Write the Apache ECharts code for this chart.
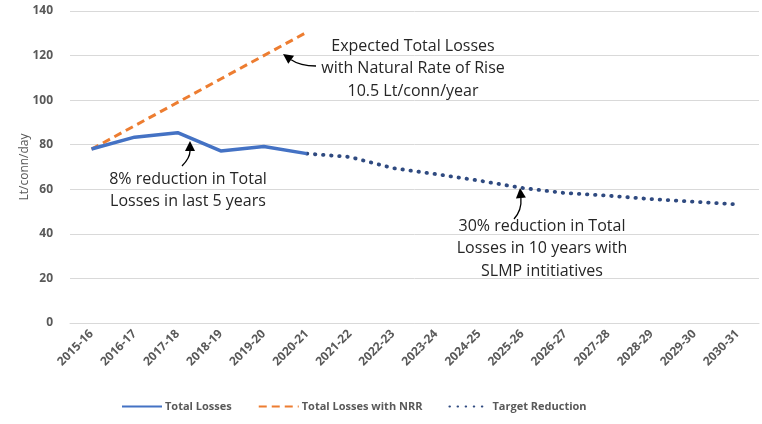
<!DOCTYPE html>
<html><head><meta charset="utf-8">
<script src="https://cdn.jsdelivr.net/npm/echarts@6/dist/echarts.min.js"></script>
<style>html,body{margin:0;padding:0;background:#fff}#c{width:762px;height:424px}</style>
</head><body><div id="c"></div>
<script>
const categories = ['2015-16','2016-17','2017-18','2018-19','2019-20','2020-21','2021-22','2022-23','2023-24','2024-25','2025-26','2026-27','2027-28','2028-29','2029-30','2030-31'];
const totalLosses = [78.1, 83.4, 85.4, 77.2, 79.2, 76.0, null, null, null, null, null, null, null, null, null, null];
const totalLossesNRR = [78, 88.5, 99, 109.5, 120, 130.5, null, null, null, null, null, null, null, null, null, null];
const targetReduction = [null, null, null, null, null, 76.0, 74.5, 69.5, 66.8, 63.9, 60.6, 58.3, 57.1, 55.6, 54.4, 53.2];
const yTicks = {min: 0, max: 140, interval: 20};

const FONT = '"Open Sans", sans-serif';
const GREY = '#595959';
const chart = echarts.init(document.getElementById('c'));
chart.setOption({
  animation: false,
  textStyle: {fontFamily: FONT},
  grid: {left: 70, right: 3, top: 11, bottom: 101},
  legend: {
    bottom: 7, left: 116, itemWidth: 40, itemHeight: 10, itemGap: 26,
    itemStyle: {opacity: 0},
    textStyle: {color: GREY, fontSize: 11, fontWeight: 'bold', fontFamily: FONT, padding: [0, 0, 0, -2]},
    data: ['Total Losses', 'Total Losses with NRR', 'Target Reduction']
  },
  xAxis: {
    type: 'category', data: categories, boundaryGap: true,
    axisLine: {lineStyle: {color: '#d9d9d9'}},
    axisTick: {show: false},
    axisLabel: {rotate: 45, interval: 0, color: GREY, fontSize: 12, fontWeight: 'bold', margin: 9}
  },
  yAxis: {
    type: 'value', min: yTicks.min, max: yTicks.max, interval: yTicks.interval,
    name: 'Lt/conn/day', nameLocation: 'middle', nameGap: 39, nameMoveOverlap: false,
    nameTextStyle: {color: GREY, fontSize: 12},
    axisLine: {show: false}, axisTick: {show: false},
    axisLabel: {color: GREY, fontSize: 12, fontWeight: 'bold', margin: 17},
    splitLine: {lineStyle: {color: '#d9d9d9'}}
  },
  series: [
    {name: 'Total Losses', type: 'line', data: totalLosses, symbol: 'none', connectNulls: false,
     lineStyle: {color: '#4472C4', width: 3.5}, itemStyle: {color: '#4472C4'}, z: 3},
    {name: 'Total Losses with NRR', type: 'line', data: totalLossesNRR, symbol: 'none',
     lineStyle: {color: '#ED7D31', width: 3, type: [8, 5]}, itemStyle: {color: '#ED7D31'}, z: 2},
    {name: 'Target Reduction', type: 'line', data: targetReduction, symbol: 'none',
     lineStyle: {color: '#2F4A80', width: 3.8, type: [0.5, 7.6], cap: 'round'}, itemStyle: {color: '#2F4A80'}, z: 2}
  ]
});

function arrow(x1, y1, cx, cy, x2, y2) {
  const ang = Math.atan2(y2 - cy, x2 - cx);
  const L = 10, W = 5;
  const bx = x2 - L * Math.cos(ang), by = y2 - L * Math.sin(ang);
  const px = -Math.sin(ang) * W, py = Math.cos(ang) * W;
  return [
    {type: 'bezierCurve', shape: {x1: x1, y1: y1, cpx1: cx, cpy1: cy, x2: bx, y2: by},
     style: {stroke: '#000', lineWidth: 1.3, fill: null}, z: 10},
    {type: 'polygon', shape: {points: [[x2, y2], [bx + px, by + py], [bx - px, by - py]]},
     style: {fill: '#000'}, z: 10}
  ];
}
function txt(x, y, lines) {
  return {type: 'text', x: x, y: y, z: 10,
    style: {text: lines.join('\n'), fill: '#262626', font: '16px ' + FONT, align: 'center', verticalAlign: 'top', lineHeight: 22.5}};
}
chart.setOption({graphic: [
  txt(413, 35, ['Expected Total Losses', 'with Natural Rate of Rise', '10.5 Lt/conn/year']),
  ...arrow(316, 66, 300, 66, 283, 54),
  txt(188, 168, ['8% reduction in Total', 'Losses in last 5 years']),
  ...arrow(182, 166, 190, 158, 190, 141),
  txt(542, 215, ['30% reduction in Total', 'Losses in 10 years with', 'SLMP intitiatives']),
  ...arrow(514, 219, 522, 210, 520, 188)
]});
</script></body></html>
